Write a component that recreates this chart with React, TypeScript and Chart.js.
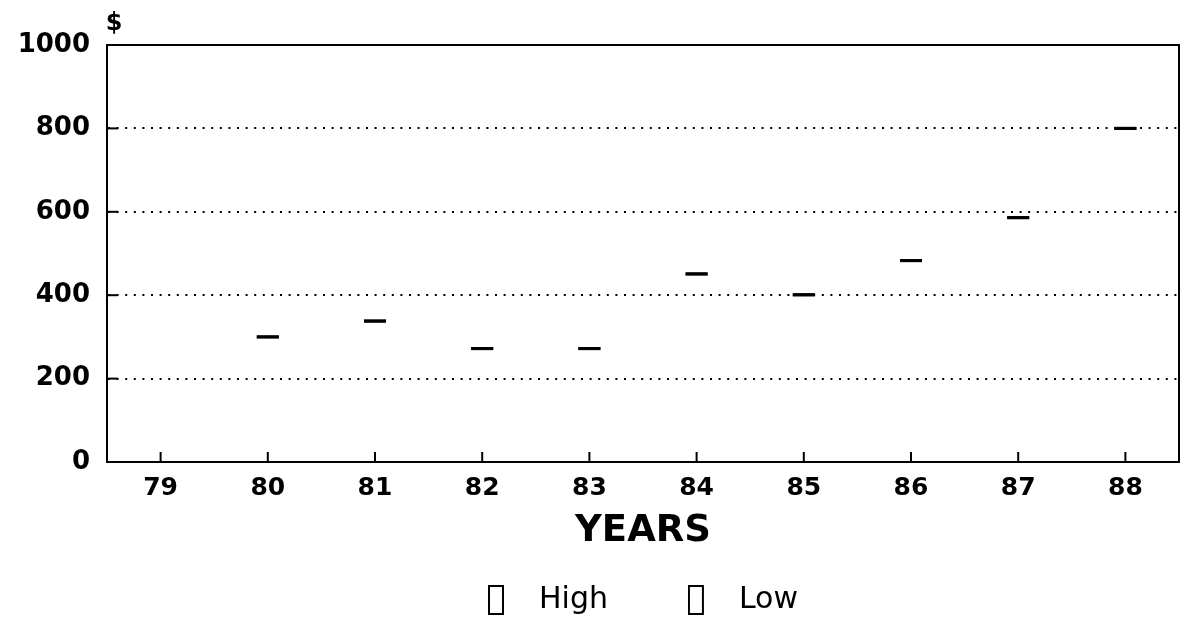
import React, { useEffect, useRef } from 'react';
import { Chart, registerables } from 'chart.js';

Chart.register(...registerables);

const years = ['79', '80', '81', '82', '83', '84', '85', '86', '87', '88'];
const highValues = [null, 300, 338, 272, 272, 451, 401, 483, 586, 800];
const lowValues = [null, 300, 338, 272, 272, 451, 401, 483, 586, 800];
const seriesNames = ['High', 'Low'];
const yMin = 0;
const yMax = 1000;
const yStep = 200;
const unitLabel = '$';
const xTitle = 'YEARS';

const FONT = "'DejaVu Sans', 'Liberation Sans', sans-serif";

function makeLegendBox(): HTMLCanvasElement {
  const c = document.createElement('canvas');
  c.width = 36;
  c.height = 30;
  const g = c.getContext('2d')!;
  g.fillStyle = '#fff';
  g.fillRect(1, 1, 14, 28);
  g.strokeStyle = '#000';
  g.lineWidth = 2;
  g.strokeRect(1, 1, 14, 28);
  return c;
}

const framePlugin = {
  id: 'frame',
  afterDatasetsDraw(chart: any) {
    const { ctx, chartArea, scales } = chart;
    const { left, right, top, bottom } = chartArea;
    ctx.save();
    ctx.strokeStyle = '#000';
    ctx.lineWidth = 2;
    ctx.setLineDash([]);
    ctx.beginPath();
    ctx.moveTo(left, top);
    ctx.lineTo(right, top);
    ctx.lineTo(right, bottom);
    ctx.stroke();
    // inner tick marks on x axis
    const xs = scales.x;
    xs.ticks.forEach((_t: any, i: number) => {
      const px = xs.getPixelForTick(i);
      ctx.beginPath();
      ctx.moveTo(px, bottom);
      ctx.lineTo(px, bottom - 10);
      ctx.stroke();
    });
    // inner tick marks on y axis
    const ys = scales.y;
    ys.ticks.forEach((t: any) => {
      if (t.value <= yMin || t.value >= yMax) return;
      const py = ys.getPixelForValue(t.value);
      ctx.beginPath();
      ctx.moveTo(left, py);
      ctx.lineTo(left + 11, py);
      ctx.stroke();
    });
    // unit label
    ctx.fillStyle = '#000';
    ctx.font = `bold 24px ${FONT}`;
    ctx.textAlign = 'center';
    ctx.textBaseline = 'middle';
    ctx.fillText(unitLabel, left + 7, top - 21);
    ctx.restore();
  },
};

export default function App() {
  const canvasRef = useRef<HTMLCanvasElement | null>(null);

  useEffect(() => {
    document.body.style.margin = '0';
    document.body.style.background = '#fff';
    Chart.defaults.font.family = FONT;
    Chart.defaults.color = '#000';
    const boxImg = makeLegendBox();

    const pointStyleOpts = {
      type: 'line' as const,
      showLine: false,
      pointStyle: 'line' as const,
      pointRadius: 11,
      pointHoverRadius: 11,
      pointBorderWidth: 3,
      pointHoverBorderWidth: 3,
      borderColor: '#000',
      backgroundColor: '#fff',
    };

    const chart = new Chart(canvasRef.current!, {
      type: 'line',
      data: {
        labels: years,
        datasets: [
          { ...pointStyleOpts, label: seriesNames[0], data: highValues },
          { ...pointStyleOpts, label: seriesNames[1], data: lowValues },
        ],
      },
      options: {
        animation: false,
        responsive: true,
        maintainAspectRatio: false,
        layout: { padding: { left: 0, right: 10, top: 45, bottom: 4 } },
        plugins: {
          tooltip: { enabled: false },
          legend: {
            position: 'bottom',
            fullSize: false,
            labels: {
              usePointStyle: true,
              pointStyleWidth: 36,
              boxHeight: 30,
              padding: 80,
              color: '#000',
              font: { size: 30, weight: 'normal', family: FONT },
              generateLabels: (ch: any) =>
                ch.data.datasets.map((ds: any, i: number) => ({
                  text: ds.label,
                  pointStyle: boxImg,
                  fillStyle: '#fff',
                  strokeStyle: '#000',
                  lineWidth: 0,
                  hidden: false,
                  datasetIndex: i,
                  fontColor: '#000',
                })),
            },
          },
        },
        scales: {
          x: {
            type: 'category',
            offset: true,
            grid: { display: false, drawTicks: false },
            border: { display: true, color: '#000', width: 2 },
            ticks: {
              color: '#000',
              font: { size: 25, weight: 'bold', family: FONT },
              padding: 11,
              maxRotation: 0,
              autoSkip: false,
            },
            title: {
              display: true,
              text: xTitle,
              color: '#000',
              font: { size: 37, weight: 'bold', family: FONT },
              padding: { top: 0, bottom: -49 },
            },
            afterFit: (s: any) => {
              s.height = 43;
            },
          },
          y: {
            min: yMin,
            max: yMax,
            grid: {
              drawTicks: false,
              lineWidth: 2,
              color: (c: any) =>
                c.tick && c.tick.value > yMin && c.tick.value < yMax ? '#000' : 'rgba(0,0,0,0)',
            },
            border: { display: true, color: '#000', width: 2, dash: [2, 6.6] },
            ticks: {
              stepSize: yStep,
              color: '#000',
              padding: 17,
              font: { size: 26, weight: 'bold', family: FONT },
              callback: (v: any) => String(v),
            },
            afterFit: (s: any) => {
              s.width = 107;
            },
          },
        },
      },
      plugins: [framePlugin],
    });
    return () => chart.destroy();
  }, []);

  return (
    <div style={{ position: 'relative', width: 1193, height: 629 }}>
      <canvas ref={canvasRef} />
    </div>
  );
}
